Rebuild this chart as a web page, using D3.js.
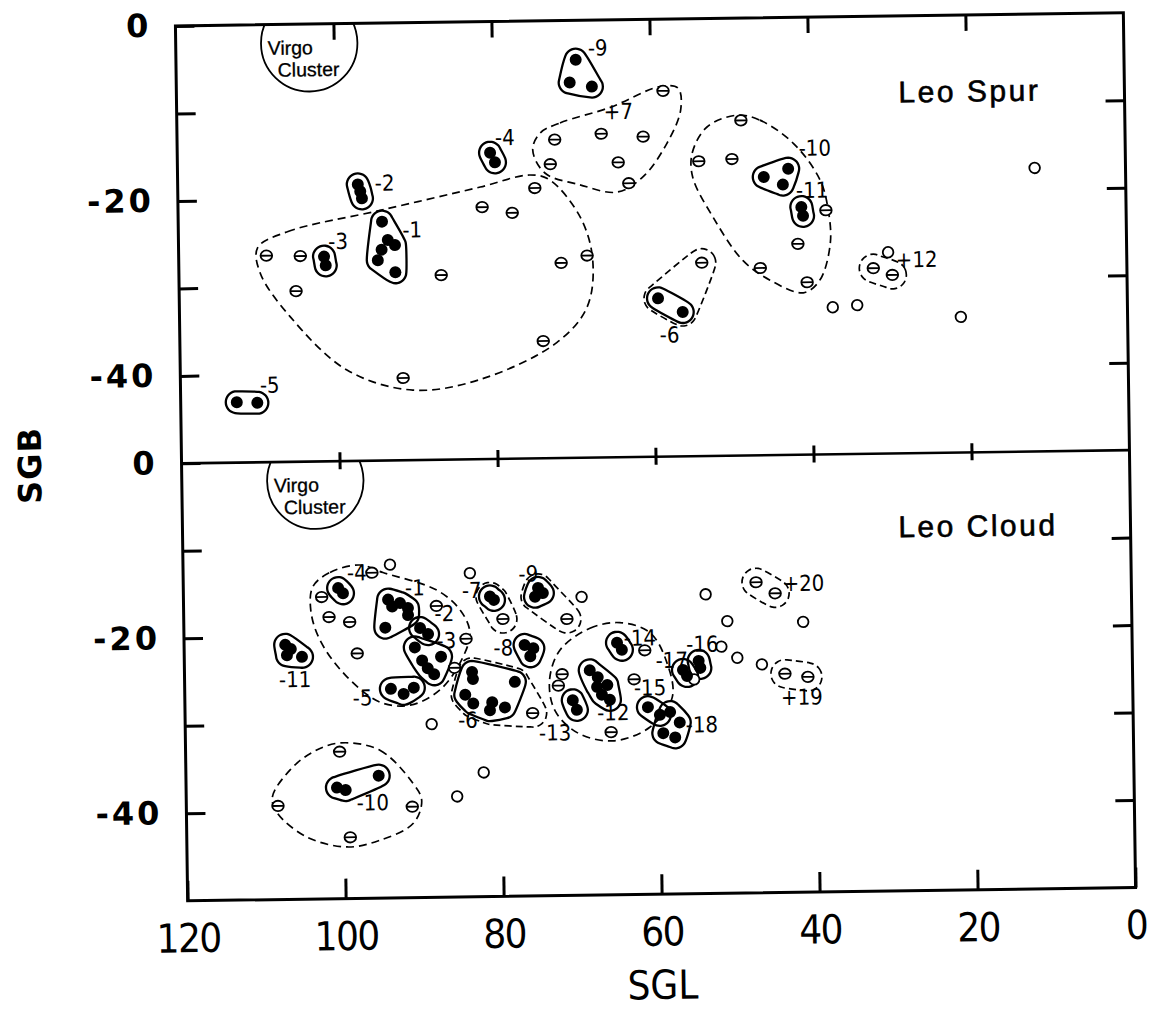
<!DOCTYPE html>
<html>
<head>
<meta charset="utf-8">
<script src="https://cdn.jsdelivr.net/npm/d3@7"></script>
<style>
  body { margin: 0; background: #fff; }
  svg { display: block; }
</style>
</head>
<body>
<svg width="1156" height="1009"></svg>
<script>
// Leo Spur / Leo Cloud groups in supergalactic coordinates (SGL, SGB).
// Filled dots are group members, barred circles belong to associations,
// open circles are field galaxies.

const xTicks = [120, 100, 80, 60, 40, 20, 0];
const yTicks = [0, -10, -20, -30, -40];
const yLabelled = [0, -20, -40];

const virgo = [103.1, -2.2, 6.1]; // SGL, SGB, radius (deg)

// ---- upper panel: Leo Spur ----
const spurFilled = [
  [69.4, -4.5, "-9"], [70.2, -7.1, "-9"], [67.4, -7.6, "-9"],
  [80.4, -15.0, "-4"], [79.8, -16.1, "-4"],
  [97.2, -18.4, "-2"], [96.9, -19.2, "-2"], [96.7, -20.0, "-2"],
  [101.6, -26.6, "-3"], [101.4, -27.6, "-3"],
  [94.2, -22.7, "-1"], [93.5, -24.8, "-1"], [92.6, -25.4, "-1"],
  [94.3, -25.9, "-1"], [94.8, -27.1, "-1"], [92.6, -28.5, "-1"],
  [112.9, -43.1, "-5"], [110.3, -43.2, "-5"],
  [45.8, -18.2, "-10"], [42.7, -17.3, "-10"], [43.4, -19.1, "-10"],
  [41.1, -21.7, "-11"], [40.9, -22.7, "-11"],
  [59.4, -31.9, "-6"], [56.3, -33.5, "-6"],
];
const spurBarred = [
  [108.9, -26.4], [104.6, -26.5], [105.2, -30.5], [86.8, -28.9], [91.8, -40.6],
  [74.0, -36.6], [81.5, -21.2], [77.7, -21.9], [74.8, -19.1], [68.3, -26.9], [71.6, -27.7],
  [72.8, -16.4], [72.2, -13.6], [66.3, -13.0], [64.2, -16.3], [61.0, -13.4],
  [62.9, -18.7], [58.4, -8.2],
  [54.0, -16.3], [49.8, -16.1], [48.6, -11.7], [38.0, -22.1], [41.6, -25.9],
  [46.4, -28.6], [40.5, -30.3],
  [53.8, -27.9, "-6"],
  [32.1, -28.8, "+12"], [29.7, -29.6, "+12"],
];
const spurOpen = [[30.2, -27.0], [37.3, -33.2], [34.2, -33.0], [21.1, -34.5], [11.5, -17.6]];
const spurLabels = [
  ["-9", 66.6, -3.2], ["+7", 64.1, -10.5], ["-4", 78.5, -13.3], ["-2", 93.8, -18.3],
  ["-3", 99.8, -24.9], ["-1", 90.4, -23.7], ["-5", 108.7, -41.2], ["-10", 39.3, -15.0],
  ["-11", 39.7, -19.8], ["-6", 58.0, -36.1], ["+12", 26.6, -27.9],
];
const spurHulls = ["-6", "+12"];
const spurAssocMain = [
  [110.0, -25.5], [106.2, -23.7], [94.4, -21.4], [81.7, -18.9], [75.4, -17.6], [72.9, -18.2],
  [69.1, -22.5], [67.6, -27.4], [68.4, -32.8], [72.3, -36.8], [82.1, -40.9], [90.6, -42.0],
  [98.9, -39.6], [106.0, -33.4], [109.7, -28.4],
];
const spurAssoc7 = [
  [74.0, -12.8], [71.5, -11.7], [65.1, -10.0], [58.8, -7.7], [56.5, -7.9], [56.2, -10.4],
  [58.0, -14.2], [61.1, -18.0], [64.4, -19.7], [69.1, -18.8], [73.5, -17.4], [75.0, -14.7],
];
const spurAssoc10 = [
  [49.1, -11.1], [46.2, -11.7], [42.0, -14.4], [38.7, -18.6], [37.7, -22.1], [37.5, -25.9],
  [38.9, -30.1], [41.0, -31.5], [45.2, -30.0], [48.6, -27.7], [52.3, -22.7], [54.8, -18.1],
  [54.8, -15.3], [52.9, -12.4],
];

// ---- lower panel: Leo Cloud ----
const cloudFilled = [
  [100.4, -14.5, "-4"], [99.8, -15.1, "-4"],
  [94.1, -15.9, "-1"], [93.6, -16.7, "-1"], [92.6, -16.3, "-1"], [91.6, -16.9, "-1"],
  [91.6, -17.7, "-1"], [94.5, -19.1, "-1"],
  [90.1, -19.2, "-2"], [89.1, -19.9, "-2"],
  [90.8, -21.4, "-3"], [89.9, -22.9, "-3"], [89.2, -23.8, "-3"], [87.5, -22.5, "-3"], [88.4, -24.5, "-3"],
  [93.9, -26.1, "-5"], [92.3, -26.7, "-5"], [91.0, -26.0, "-5"],
  [107.2, -20.9, "-11"], [107.0, -22.1, "-11"], [105.1, -22.3, "-11"], [106.5, -21.4, "-11"],
  [81.2, -15.7, "-7"], [80.7, -16.1, "-7"],
  [75.1, -14.8, "-9"], [74.5, -15.4, "-9"], [75.5, -15.8, "-9"],
  [76.9, -21.3, "-8"], [75.8, -21.7, "-8"], [76.2, -22.6, "-8"],
  [83.6, -24.3, "-6"], [83.5, -25.1, "-6"], [78.2, -25.5, "-6"], [84.5, -26.9, "-6"],
  [83.5, -27.9, "-6"], [81.1, -27.8, "-6"], [81.4, -28.7, "-6"], [79.5, -28.4, "-6"],
  [68.7, -24.3, "-12"], [67.7, -25.1, "-12"], [67.8, -26.2, "-12"], [66.5, -26.0, "-12"],
  [67.2, -27.1, "-12"], [66.2, -27.7, "-12"],
  [70.9, -27.7, "-13"], [70.4, -28.8, "-13"],
  [65.2, -21.2, "-14"], [64.6, -22.0, "-14"],
  [61.4, -28.6, "-15"], [59.9, -29.5, "-15"],
  [58.6, -29.2, "-18"], [57.4, -30.4, "-18"], [59.5, -31.6, "-18"], [58.0, -32.1, "-18"],
  [56.9, -24.4, "-17"], [56.4, -25.1, "-17"],
  [54.9, -23.4, "-16"], [54.7, -24.2, "-16"],
  [100.9, -37.3, "-10"], [99.8, -37.6, "-10"], [95.6, -36.0, "-10"],
];
const cloudBarred = [
  [96.1, -12.8], [102.5, -15.5], [101.6, -17.8], [99.0, -18.4], [98.1, -22.0],
  [88.0, -16.7], [84.3, -20.5], [85.8, -23.8],
  [79.6, -18.3, "-7"], [71.5, -18.4, "-9"], [76.0, -29.1, "-6"],
  [72.2, -24.7], [72.7, -26.0], [61.7, -22.1], [63.1, -25.4], [66.1, -31.4],
  [100.5, -33.2], [108.4, -39.3], [91.4, -39.6], [99.3, -43.0],
  [47.5, -14.5, "+20"], [45.1, -15.8, "+20"], [44.0, -25.0, "+19"], [41.1, -25.4, "+19"],
];
const cloudOpen = [
  [93.8, -11.9], [83.7, -13.0], [69.6, -15.9], [53.9, -15.8], [51.2, -18.9], [52.0, -21.8],
  [50.0, -23.1], [46.9, -23.9], [41.6, -19.1], [55.5, -25.5], [88.8, -30.2], [82.3, -35.8],
  [85.7, -38.5],
];
const cloudLabels = [
  ["-4", 98.0, -12.8], ["-1", 90.7, -14.6], ["-2", 87.0, -17.6], ["-3", 86.8, -20.7],
  ["-5", 97.5, -27.1], ["-11", 106.0, -24.9], ["-7", 83.5, -15.0], ["-9", 76.3, -13.2],
  ["-8", 79.6, -21.6], ["-6", 84.2, -29.8], ["-13", 73.2, -31.4], ["-12", 65.8, -29.2],
  ["-14", 62.3, -20.7], ["-15", 61.1, -26.4], ["-18", 54.6, -30.7], ["-17", 58.3, -23.3],
  ["-16", 54.4, -21.5], ["+20", 41.5, -14.7], ["+19", 41.9, -27.7], ["-10", 96.4, -39.1],
];
const cloudHulls = ["-7", "-9", "-6", "+19", "+20"];
const cloudAssocMain = [
  [103.6, -14.3], [101.4, -12.7], [97.6, -11.9], [94.7, -12.8], [87.9, -14.9], [85.0, -17.2],
  [83.8, -19.8], [84.9, -22.9], [87.7, -26.3], [91.5, -28.0], [95.3, -27.6], [99.7, -24.4],
  [102.8, -20.4], [103.9, -17.0],
];
const cloudAssoc12 = [
  [72.4, -21.9], [68.6, -19.5], [64.8, -18.9], [61.0, -20.1], [58.9, -23.6], [58.3, -27.5],
  [61.2, -30.9], [65.9, -32.4], [70.4, -31.4], [73.2, -28.8], [73.8, -25.3],
];
const cloudAssoc10 = [
  [100.4, -32.2], [95.4, -33.1], [91.3, -36.9], [90.2, -38.9], [91.3, -41.5], [95.6, -43.4],
  [99.7, -44.1], [104.8, -42.9], [108.5, -40.1], [109.1, -38.3], [106.8, -35.2], [103.9, -33.2],
];

// ---- layout ----
const frameLeft = 181.5, frameRight = 1129.5;
const frameTop = 19.25, frameMid = 456.75, frameBottom = 894.25;
const tilt = -0.8; // the scanned page sits slightly rotated
const narrow = '"Liberation Sans Narrow", "DejaVu Sans Condensed", "Liberation Sans", sans-serif';
const bold = '"DejaVu Sans", "Liberation Sans", sans-serif';
const plain = '"Liberation Sans", Arial, sans-serif';

const svg = d3.select("svg");
svg.append("rect").attr("width", 1156).attr("height", 1009).attr("fill", "#fff");

const page = svg
  .append("g")
  .attr("transform", `rotate(${tilt}, ${(frameLeft + frameRight) / 2}, ${frameMid})`);

const x = d3.scaleLinear().domain([120, 0]).range([frameLeft, frameRight]);

const panels = [
  {
    id: "spur", title: "Leo Spur", titleAt: [28.6, -8.7],
    y: d3.scaleLinear().domain([0, -50]).range([frameTop, frameMid]),
    filled: spurFilled, barred: spurBarred, open: spurOpen, labels: spurLabels,
    hulls: spurHulls, outlines: [spurAssocMain, spurAssoc7, spurAssoc10],
  },
  {
    id: "cloud", title: "Leo Cloud", titleAt: [29.4, -8.4],
    y: d3.scaleLinear().domain([0, -50]).range([frameMid, frameBottom]),
    filled: cloudFilled, barred: cloudBarred, open: cloudOpen, labels: cloudLabels,
    hulls: cloudHulls, outlines: [cloudAssocMain, cloudAssoc12, cloudAssoc10],
  },
];

const closedCurve = d3.line().curve(d3.curveCatmullRomClosed.alpha(0.5));

// rounded outline around a set of pixel points
const hullPath = (pts, pad) => {
  const ring = [];
  pts.forEach(([px, py]) => {
    for (let k = 0; k < 18; k++) {
      const a = (k / 18) * 2 * Math.PI;
      ring.push([px + pad * Math.cos(a), py + pad * Math.sin(a)]);
    }
  });
  return closedCurve(d3.polygonHull(ring));
};

panels.forEach((p) => {
  const y = p.y;
  const g = page.append("g").attr("id", p.id);
  const [y0, y1] = y.range();

  g.append("clipPath")
    .attr("id", "clip-" + p.id)
    .append("rect")
    .attr("x", frameLeft).attr("y", y0)
    .attr("width", frameRight - frameLeft).attr("height", y1 - y0);

  // Virgo cluster
  const vx = x(virgo[0]), vy = y(virgo[1]);
  g.append("circle")
    .attr("clip-path", `url(#clip-${p.id})`)
    .attr("cx", vx).attr("cy", vy)
    .attr("r", x(0) - x(virgo[2]))
    .attr("fill", "none").attr("stroke", "#000").attr("stroke-width", 1.8);
  g.append("text").attr("x", vx - 19).attr("y", vy + 4).text("Virgo");
  g.append("text").attr("x", vx - 1).attr("y", vy + 26).text("Cluster");
  g.selectAll("text")
    .attr("text-anchor", "middle").attr("dominant-baseline", "central")
    .attr("font-family", plain).attr("font-size", 19.5)
    .attr("stroke", "#000").attr("stroke-width", 0.3);

  // dashed associations drawn by hand
  g.selectAll(".assoc")
    .data(p.outlines)
    .enter()
    .append("path")
    .attr("class", "assoc")
    .attr("d", (o) => closedCurve(o.map((d) => [x(d[0]), y(d[1])])))
    .attr("fill", "none").attr("stroke", "#000")
    .attr("stroke-width", 1.7).attr("stroke-dasharray", "8,5");

  // small dashed associations around their members
  p.hulls.forEach((id) => {
    const members = p.filled.filter((d) => d[2] === id)
      .concat(p.barred.filter((d) => d[2] === id))
      .map((d) => [x(d[0]), y(d[1])]);
    g.append("path")
      .attr("d", hullPath(members, 14))
      .attr("fill", "none").attr("stroke", "#000")
      .attr("stroke-width", 1.7).attr("stroke-dasharray", "7,4");
  });

  // solid outlines around groups
  const groups = d3.group(p.filled, (d) => d[2]);
  groups.forEach((pts) => {
    g.append("path")
      .attr("d", hullPath(pts.map((d) => [x(d[0]), y(d[1])]), 11))
      .attr("fill", "none").attr("stroke", "#000").attr("stroke-width", 2.3);
  });

  // open circles
  g.selectAll(".open")
    .data(p.open)
    .enter()
    .append("circle")
    .attr("class", "open")
    .attr("cx", (d) => x(d[0])).attr("cy", (d) => y(d[1]))
    .attr("r", 5.3)
    .attr("fill", "#fff").attr("stroke", "#000").attr("stroke-width", 1.8);

  // barred circles
  const barred = g.selectAll(".barred")
    .data(p.barred)
    .enter()
    .append("g")
    .attr("class", "barred")
    .attr("transform", (d) => `translate(${x(d[0])},${y(d[1])})`);
  barred.append("ellipse")
    .attr("rx", 5.8).attr("ry", 5.2)
    .attr("fill", "#fff").attr("stroke", "#000").attr("stroke-width", 1.8);
  barred.append("line")
    .attr("x1", -5.8).attr("x2", 5.8)
    .attr("stroke", "#000").attr("stroke-width", 1.8);

  // group members
  g.selectAll(".member")
    .data(p.filled)
    .enter()
    .append("circle")
    .attr("class", "member")
    .attr("cx", (d) => x(d[0])).attr("cy", (d) => y(d[1]))
    .attr("r", 6).attr("fill", "#000");

  // group names
  g.selectAll(".name")
    .data(p.labels)
    .enter()
    .append("text")
    .attr("class", "name")
    .attr("x", (d) => x(d[1])).attr("y", (d) => y(d[2]))
    .attr("text-anchor", "middle").attr("dominant-baseline", "central")
    .attr("font-family", narrow).attr("font-size", 22)
    .text((d) => d[0]);

  g.append("text")
    .attr("x", x(p.titleAt[0])).attr("y", y(p.titleAt[1]))
    .attr("dominant-baseline", "central")
    .attr("font-family", plain)
    .attr("font-size", 30).attr("letter-spacing", 2.5)
    .attr("stroke", "#000").attr("stroke-width", 0.6)
    .text(p.title);

  // axes
  page.append("g")
    .attr("class", "axis ylab")
    .attr("transform", `translate(${frameLeft},0)`)
    .call(d3.axisLeft(y).tickValues(yTicks).tickSize(-19).tickPadding(24)
      .tickFormat((d) => (yLabelled.includes(d) ? String(d) : "")));

  page.append("g")
    .attr("class", "axis")
    .attr("transform", `translate(${frameRight},0)`)
    .call(d3.axisRight(y).tickValues(yTicks.slice(1)).tickSize(-19).tickFormat(""));
});

// top edge, divider and bottom edge ticks
page.append("g").attr("class", "axis")
  .attr("transform", `translate(0,${frameTop})`)
  .call(d3.axisTop(x).tickValues(xTicks.slice(1, -1)).tickSize(-16).tickFormat(""));
page.append("g").attr("class", "axis")
  .attr("transform", `translate(0,${frameMid})`)
  .call(d3.axisTop(x).tickValues(xTicks.slice(1, -1)).tickSize(9).tickFormat(""));
page.append("g").attr("class", "axis")
  .attr("transform", `translate(0,${frameMid})`)
  .call(d3.axisBottom(x).tickValues(xTicks.slice(1, -1)).tickSize(8).tickFormat(""));
page.append("g").attr("class", "axis xlab")
  .attr("transform", `translate(0,${frameBottom})`)
  .call(d3.axisBottom(x).tickValues(xTicks).tickSize(-20).tickPadding(23));

page.selectAll(".axis .domain").remove();
page.selectAll(".axis .tick line").attr("stroke", "#000").attr("stroke-width", 3);
page.selectAll(".ylab text")
  .attr("font-family", bold).attr("font-weight", "bold")
  .attr("font-size", 32).attr("letter-spacing", 3).attr("fill", "#000");
page.selectAll(".xlab text")
  .attr("font-family", narrow).attr("font-size", 40)
  .attr("letter-spacing", -1.5).attr("fill", "#000");

// frame
page.append("rect")
  .attr("x", frameLeft).attr("y", frameTop)
  .attr("width", frameRight - frameLeft).attr("height", frameBottom - frameTop)
  .attr("fill", "none").attr("stroke", "#000").attr("stroke-width", 3);
page.append("line")
  .attr("x1", frameLeft).attr("x2", frameRight).attr("y1", frameMid).attr("y2", frameMid)
  .attr("stroke", "#000").attr("stroke-width", 2.6);

// axis titles
page.append("text")
  .attr("x", (frameLeft + frameRight) / 2).attr("y", 985)
  .attr("text-anchor", "middle").attr("dominant-baseline", "central")
  .attr("font-family", narrow).attr("font-size", 40)
  .text("SGL");
page.append("text")
  .attr("transform", `translate(30,${frameMid}) rotate(-90)`)
  .attr("text-anchor", "middle").attr("dominant-baseline", "central")
  .attr("font-family", bold).attr("font-weight", "bold").attr("font-size", 32)
  .attr("letter-spacing", 1)
  .text("SGB");
</script>
</body>
</html>
